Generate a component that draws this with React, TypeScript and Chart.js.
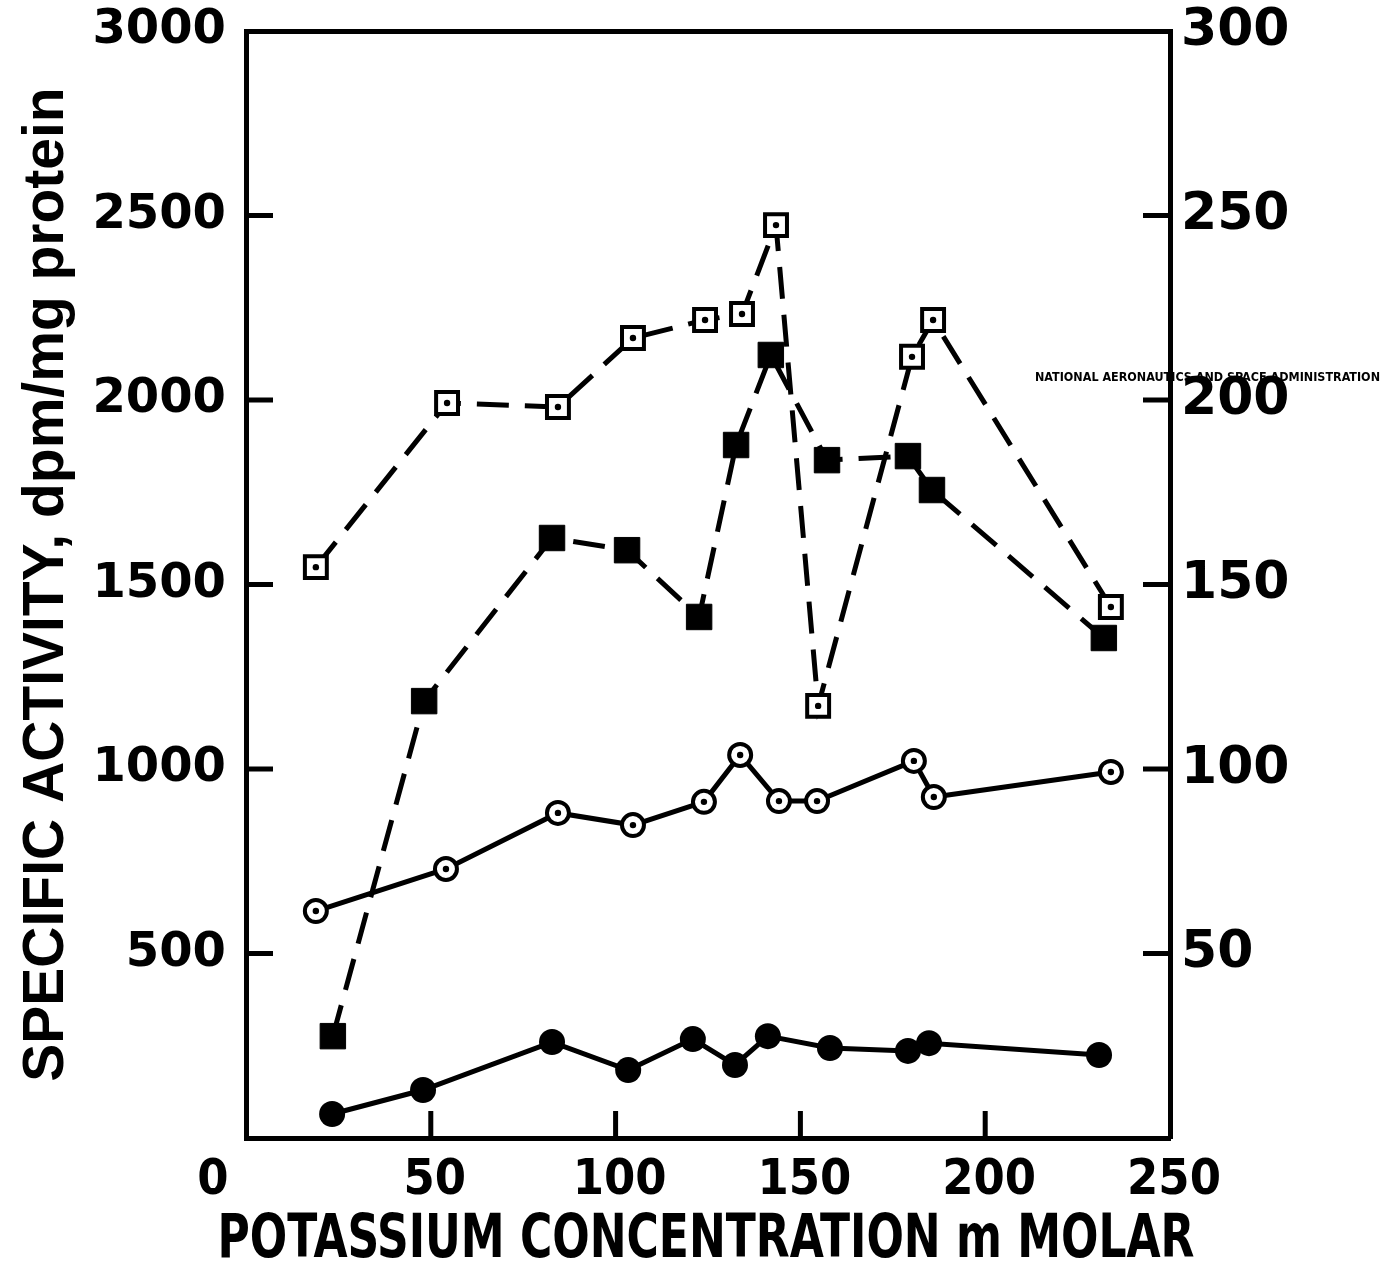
import React, { useEffect, useRef } from 'react';
import { Chart, registerables } from 'chart.js';

Chart.register(...registerables);

// ---- data ----
const xTickValues = [0, 50, 100, 150, 200, 250];
const yLeftTickValues = [500, 1000, 1500, 2000, 2500, 3000];
const yRightTickValues = [50, 100, 150, 200, 250, 300];

const openSquareX = [18.9, 54.4, 84.4, 104.7, 124.2, 134.2, 143.4, 154.8, 180.2, 185.9, 234.0];
const openSquareY = [1547, 1992, 1981, 2168, 2217, 2233, 2474, 1171, 2117, 2217, 1439];

const filledSquareX = [23.5, 48.2, 82.8, 103.1, 122.6, 132.6, 142.0, 157.2, 179.1, 185.6, 232.1];
const filledSquareY = [276, 1184, 1626, 1593, 1412, 1878, 2122, 1837, 1848, 1756, 1355];

const openCircleX = [18.9, 54.1, 84.4, 104.7, 123.9, 133.7, 144.2, 154.5, 180.7, 186.1, 234.0];
const openCircleY = [615, 729, 881, 848, 911, 1038, 913, 913, 1022, 924, 992];

const filledCircleX = [23.3, 47.9, 82.8, 103.4, 120.9, 132.3, 141.2, 158.0, 179.1, 184.8, 230.8];
const filledCircleY = [65, 130, 260, 184, 268, 198, 276, 244, 236, 257, 225];

const xTitle = 'POTASSIUM CONCENTRATION m MOLAR';
const yTitle = 'SPECIFIC ACTIVITY, dpm/mg protein';
const stampText = 'NATIONAL AERONAUTICS AND SPACE ADMINISTRATION';
const originLabel = '0';

const pts = (xs: number[], ys: number[]) => xs.map((x, i) => ({ x, y: ys[i] }));

const NARROW = '"Liberation Sans Narrow", "DejaVu Sans Condensed", "Liberation Sans", sans-serif';
const WIDE = '"DejaVu Sans", "Liberation Sans", sans-serif';
const X_TICK_FONT = { family: NARROW, size: 50, weight: 'bold' };
const X_TICK_PAD = 13;

const noPad = (s: any) => {
  s.paddingTop = 0;
  s.paddingBottom = 0;
  s.paddingLeft = 0;
  s.paddingRight = 0;
};

const decorations = {
  id: 'decorations',
  afterDatasetsDraw(chart: any) {
    const { ctx, chartArea, scales } = chart;
    const len = 27;
    ctx.save();
    ctx.strokeStyle = '#000';
    ctx.lineWidth = 5;
    ctx.beginPath();
    yLeftTickValues.forEach((v) => {
      if (v >= 3000) return;
      const y = scales.y.getPixelForValue(v);
      ctx.moveTo(chartArea.left, y);
      ctx.lineTo(chartArea.left + len, y);
    });
    yRightTickValues.forEach((v) => {
      if (v >= 300) return;
      const y = scales.y2.getPixelForValue(v);
      ctx.moveTo(chartArea.right, y);
      ctx.lineTo(chartArea.right - len, y);
    });
    xTickValues.forEach((v) => {
      if (v <= 0 || v >= 250) return;
      const x = scales.x.getPixelForValue(v);
      ctx.moveTo(x, chartArea.bottom);
      ctx.lineTo(x, chartArea.bottom - len);
    });
    ctx.stroke();

    ctx.fillStyle = '#000';
    // origin label, set off to the left of the corner as in the original
    ctx.font = `bold ${X_TICK_FONT.size}px ${NARROW}`;
    ctx.textAlign = 'center';
    ctx.textBaseline = 'middle';
    ctx.fillText(originLabel, scales.x.getPixelForValue(0) - 33, chartArea.bottom + X_TICK_PAD + X_TICK_FONT.size * 0.6);

    // x axis title (drawn here so it may be wider than the plot box)
    ctx.font = `bold 61px ${NARROW}`;
    ctx.textAlign = 'center';
    ctx.textBaseline = 'alphabetic';
    ctx.fillText(xTitle, (chartArea.left + chartArea.right) / 2 - 2, chartArea.bottom + 119, 977);

    // archival stamp text
    ctx.font = 'bold 12.5px ' + NARROW;
    ctx.textAlign = 'left';
    ctx.textBaseline = 'middle';
    ctx.fillText(stampText, chartArea.right - 135, scales.y.getPixelForValue(2060), 345);
    ctx.restore();
  },
};

export default function App() {
  const ref = useRef<HTMLCanvasElement | null>(null);

  useEffect(() => {
    document.body.style.margin = '0';
    document.body.style.overflow = 'hidden';
    const canvas = ref.current!;
    const dotStyle = {
      showLine: false,
      pointRadius: 3.2,
      pointStyle: 'circle',
      pointBackgroundColor: '#000',
      pointBorderWidth: 0,
      order: -1,
    };
    const dash = [32, 16];
    const chart = new Chart(canvas, {
      type: 'scatter',
      data: {
        datasets: [
          {
            label: 'open squares',
            data: pts(openSquareX, openSquareY),
            showLine: true,
            borderColor: '#000',
            borderWidth: 5,
            borderDash: dash,
            pointStyle: 'rect',
            pointRadius: 15.5,
            pointBackgroundColor: '#fff',
            pointBorderColor: '#000',
            pointBorderWidth: 4,
            order: 1,
          },
          {
            label: 'filled squares',
            data: pts(filledSquareX, filledSquareY),
            showLine: true,
            borderColor: '#000',
            borderWidth: 5,
            borderDash: dash,
            pointStyle: 'rect',
            pointRadius: 18,
            pointBackgroundColor: '#000',
            pointBorderColor: '#000',
            pointBorderWidth: 1,
            order: 2,
          },
          {
            label: 'open circles',
            data: pts(openCircleX, openCircleY),
            showLine: true,
            borderColor: '#000',
            borderWidth: 5,
            pointStyle: 'circle',
            pointRadius: 11,
            pointBackgroundColor: '#fff',
            pointBorderColor: '#000',
            pointBorderWidth: 4,
            order: 3,
          },
          {
            label: 'filled circles',
            data: pts(filledCircleX, filledCircleY),
            showLine: true,
            borderColor: '#000',
            borderWidth: 5,
            pointStyle: 'circle',
            pointRadius: 13,
            pointBackgroundColor: '#000',
            pointBorderColor: '#000',
            pointBorderWidth: 0,
            order: 4,
          },
          { label: 'sq dots', data: pts(openSquareX, openSquareY), ...dotStyle },
          { label: 'circ dots', data: pts(openCircleX, openCircleY), ...dotStyle },
        ] as any,
      },
      options: {
        responsive: false,
        animation: false,
        events: [],
        layout: { padding: 0 },
        plugins: { legend: { display: false }, tooltip: { enabled: false } },
        scales: {
          x: {
            type: 'linear',
            position: 'bottom',
            min: 0,
            max: 250,
            afterBuildTicks: (s: any) => {
              s.ticks = xTickValues.map((v) => ({ value: v }));
            },
            afterFit: (s: any) => {
              s.height = 130;
              noPad(s);
            },
            grid: { display: false, drawTicks: false },
            border: { display: true, width: 5, color: '#000' },
            ticks: {
              color: '#000',
              font: X_TICK_FONT,
              padding: X_TICK_PAD,
              labelOffset: 4,
              maxRotation: 0,
              autoSkip: false,
              callback: (v: any) => (v === 0 ? '' : String(v)),
            },
            title: { display: false, text: xTitle },
          },
          xTop: {
            type: 'linear',
            position: 'top',
            min: 0,
            max: 250,
            afterFit: (s: any) => {
              s.height = 31;
              noPad(s);
            },
            grid: { display: false, drawTicks: false },
            border: { display: true, width: 5, color: '#000' },
            ticks: { display: false },
          },
          y: {
            type: 'linear',
            position: 'left',
            min: 0,
            max: 3000,
            afterBuildTicks: (s: any) => {
              s.ticks = yLeftTickValues.map((v) => ({ value: v }));
            },
            afterFit: (s: any) => {
              s.width = 246;
              noPad(s);
            },
            grid: { display: false, drawTicks: false },
            border: { display: true, width: 5, color: '#000' },
            ticks: {
              color: '#000',
              font: { family: WIDE, size: 48, weight: 'bold' },
              padding: 20,
              callback: (v: any) => String(v),
            },
            title: {
              display: true,
              text: yTitle,
              color: '#000',
              font: { family: '"Liberation Sans", sans-serif', size: 57, weight: 'bold' },
              padding: { top: 13, bottom: 0 },
            },
          },
          y2: {
            type: 'linear',
            position: 'right',
            min: 0,
            max: 300,
            afterBuildTicks: (s: any) => {
              s.ticks = yRightTickValues.map((v) => ({ value: v }));
            },
            afterFit: (s: any) => {
              s.width = 224;
              noPad(s);
            },
            grid: { display: false, drawTicks: false },
            border: { display: true, width: 5, color: '#000' },
            ticks: {
              color: '#000',
              font: { family: WIDE, size: 52, weight: 'bold' },
              padding: 11,
              callback: (v: any) => String(v),
            },
          },
        } as any,
      },
      plugins: [decorations],
    });
    return () => chart.destroy();
  }, []);

  return <canvas ref={ref} width={1394} height={1268} style={{ display: 'block' }} />;
}
